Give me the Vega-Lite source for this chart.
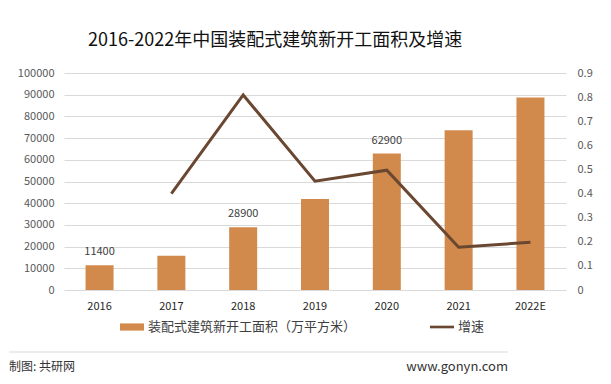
{
  "$schema": "https://vega.github.io/schema/vega-lite/v6.json",
  "padding": {"left": 8, "top": 32, "right": 10, "bottom": 2},
  "background": "white",
  "spacing": 17,
  "resolve": {"scale": {"color": "independent"}, "legend": {"color": "independent"}},
  "config": {
    "font": "Noto Sans CJK SC",
    "view": {"stroke": null},
    "axis": {"labelFont": "Noto Sans CJK SC", "labelFontSize": 11, "labelColor": "#595959", "domain": false, "ticks": false, "title": null, "gridColor": "#d9d9d9", "gridWidth": 1, "labelOverlap": false},
    "legend": {"orient": "none", "legendX": 56, "legendY": 242, "direction": "horizontal", "title": null, "labelFont": "Noto Sans CJK SC", "labelFontSize": 13, "labelColor": "#404040", "columnPadding": 73, "symbolSize": 576, "labelLimit": 400, "labelOffset": 4}
  },
  "vconcat": [
    {
      "width": 502,
      "height": 217,
      "title": {"text": "2016-2022年中国装配式建筑新开工面积及增速", "fontSize": 18, "font": "Noto Sans CJK SC", "fontWeight": "normal", "color": "#111111", "anchor": "start", "frame": "group", "dx": 24, "offset": 17},
      "data": {"values": [
        {"year": "2016", "area": 11400, "rate": null},
        {"year": "2017", "area": 15800, "rate": 0.40},
        {"year": "2018", "area": 28900, "rate": 0.809},
        {"year": "2019", "area": 41900, "rate": 0.451},
        {"year": "2020", "area": 62900, "rate": 0.497},
        {"year": "2021", "area": 73600, "rate": 0.177},
        {"year": "2022E", "area": 88700, "rate": 0.198}
      ]},
      "layer": [
        {
          "layer": [
            {
              "mark": {"type": "bar"},
              "encoding": {
                "x": {"field": "year", "type": "ordinal", "scale": {"paddingInner": 0.61, "paddingOuter": 0.3}, "axis": {"labelAngle": 0, "labelPadding": 10, "labelColor": "#262626", "grid": false}},
                "y": {"field": "area", "type": "quantitative", "scale": {"domain": [0, 100000]}, "axis": {"values": [0, 10000, 20000, 30000, 40000, 50000, 60000, 70000, 80000, 90000, 100000], "format": "d", "grid": true, "labelPadding": 10, "labelOverlap": false}},
                "color": {"datum": "装配式建筑新开工面积（万平方米）", "type": "nominal",
                  "scale": {"domain": ["装配式建筑新开工面积（万平方米）", "增速"], "range": ["#D28A4C", "#694731"]},
                  "legend": {"encode": {"symbols": {"update": {
                    "shape": {"signal": "datum.value === '增速' ? 'M-1,-0.11H1V0.11H-1Z' : 'M-1,-0.3H1V0.3H-1Z'"},
                    "fill": {"signal": "datum.value === '增速' ? '#694731' : '#D28A4C'"},
                    "stroke": {"value": "transparent"},
                    "strokeWidth": {"value": 0},
                    "opacity": {"value": 1}
                  }}}}
                }
              }
            },
            {
              "transform": [{"filter": {"field": "year", "oneOf": ["2016", "2018", "2020"]}}],
              "mark": {"type": "text", "dy": -13, "fontSize": 11, "color": "#404040", "font": "Noto Sans CJK SC"},
              "encoding": {
                "x": {"field": "year", "type": "ordinal", "axis": {"labelAngle": 0, "labelPadding": 10, "labelColor": "#262626", "grid": false}},
                "y": {"field": "area", "type": "quantitative", "scale": {"domain": [0, 100000]}, "axis": {"values": [0, 10000, 20000, 30000, 40000, 50000, 60000, 70000, 80000, 90000, 100000], "format": "d", "grid": true, "labelPadding": 10, "labelOverlap": false}},
                "text": {"field": "area", "type": "quantitative", "format": "d"}
              }
            }
          ]
        },
        {
          "mark": {"type": "line", "strokeWidth": 3},
          "encoding": {
            "x": {"field": "year", "type": "ordinal", "axis": {"labelAngle": 0, "labelPadding": 10, "labelColor": "#262626", "grid": false}},
            "y": {"field": "rate", "type": "quantitative", "scale": {"domain": [0, 0.9]}, "axis": {"orient": "right", "values": [0, 0.1, 0.2, 0.3, 0.4, 0.5, 0.6, 0.7, 0.8, 0.9], "format": ".1~f", "grid": false, "labelPadding": 11}},
            "color": {"datum": "增速", "type": "nominal"}
          }
        }
      ],
      "resolve": {"scale": {"y": "independent"}}
    },
    {
      "width": 502,
      "height": 30,
      "data": {"values": [
        {"label": "制图: 共研网", "side": "L"},
        {"label": "www.gonyn.com", "side": "R"}
      ]},
      "layer": [
        {
          "transform": [{"filter": "datum.side === 'L'"}],
          "mark": {"type": "rule", "color": "#d9d9d9", "strokeWidth": 1},
          "encoding": {
            "x": {"datum": "L", "type": "nominal", "scale": {"type": "point", "domain": ["L", "R"], "range": [-55, 444], "padding": 0}, "axis": null},
            "x2": {"datum": "R"},
            "y": {"datum": 1, "type": "quantitative", "scale": {"domain": [0, 1]}, "axis": null}
          }
        },
        {
          "transform": [{"filter": "datum.side === 'L'"}],
          "mark": {"type": "text", "align": "left", "baseline": "middle", "fontSize": 12, "color": "#333333", "font": "Noto Sans CJK SC"},
          "encoding": {
            "x": {"field": "side", "type": "nominal"},
            "y": {"datum": 0.5, "type": "quantitative"},
            "text": {"field": "label"}
          }
        },
        {
          "transform": [{"filter": "datum.side === 'R'"}],
          "mark": {"type": "text", "align": "right", "baseline": "middle", "fontSize": 13, "color": "#333333", "font": "Noto Sans CJK SC"},
          "encoding": {
            "x": {"field": "side", "type": "nominal"},
            "y": {"datum": 0.5, "type": "quantitative"},
            "text": {"field": "label"}
          }
        }
      ]
    }
  ]
}
